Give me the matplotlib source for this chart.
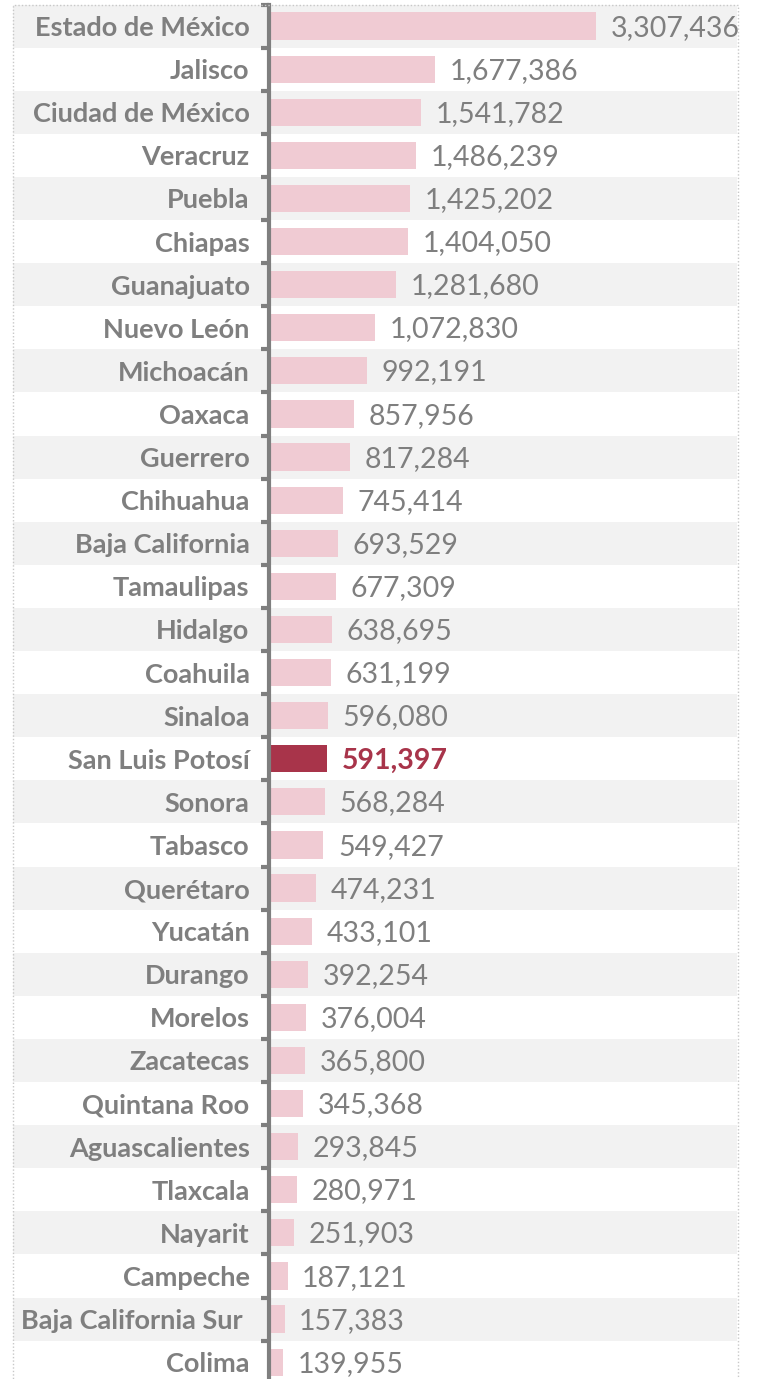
import matplotlib
matplotlib.use("Agg")
import matplotlib.pyplot as plt
from matplotlib.patches import Rectangle

states = ["Estado de México", "Jalisco", "Ciudad de México", "Veracruz", "Puebla",
          "Chiapas", "Guanajuato", "Nuevo León", "Michoacán", "Oaxaca", "Guerrero",
          "Chihuahua", "Baja California", "Tamaulipas", "Hidalgo", "Coahuila",
          "Sinaloa", "San Luis Potosí", "Sonora", "Tabasco", "Querétaro", "Yucatán",
          "Durango", "Morelos", "Zacatecas", "Quintana Roo", "Aguascalientes",
          "Tlaxcala", "Nayarit", "Campeche", "Baja California Sur ", "Colima"]
values = [3307436, 1677386, 1541782, 1486239, 1425202, 1404050, 1281680, 1072830,
          992191, 857956, 817284, 745414, 693529, 677309, 638695, 631199, 596080,
          591397, 568284, 549427, 474231, 433101, 392254, 376004, 365800, 345368,
          293845, 280971, 251903, 187121, 157383, 139955]
highlight = "San Luis Potosí"

W, H = 757, 1379
fig = plt.figure(figsize=(W / 100, H / 100), dpi=100)

row_h = 43.1
top_px = 4.5
n = len(states)
left_px, right_px = 13, 737
bottom_px = top_px + row_h * n
ax = fig.add_axes([left_px / W, (H - bottom_px) / H, (right_px - left_px) / W, (bottom_px - top_px) / H])

zero_px = 269
scale = 98.87e-6  # px per unit
ax.set_xlim(-(zero_px - left_px) / scale, (right_px - zero_px) / scale)
ax.set_ylim(n - 0.5, -0.5)

grey = "#7f7f7f"
pink = "#f0cbd3"
dark = "#a8344a"

for i in range(n):
    if i % 2 == 0:
        ax.axhspan(i - 0.5, i + 0.5, color="#f2f2f2", lw=0, zorder=0)

colors = [dark if s == highlight else pink for s in states]
ypos = list(range(n))
ax.barh(ypos, values, height=0.63, color=colors, zorder=2)

fam = ["Lato", "DejaVu Sans"]
for y, v, s in zip(ypos, values, states):
    hl = s == highlight
    ax.annotate(f"{v:,}", xy=(v, y), xytext=(10.5, -1.2), textcoords="offset points",
                ha="left", va="center", fontsize=20.5, family=fam,
                color=dark if hl else grey, fontweight="bold" if hl else "normal",
                zorder=3, annotation_clip=False)

for side in ["top", "right", "bottom"]:
    ax.spines[side].set_visible(False)
ax.spines["left"].set_position(("data", 0))
ax.spines["left"].set_color(grey)
ax.spines["left"].set_linewidth(3)
ax.spines["left"].set_zorder(4)

ax.set_xticks([])
ax.set_yticks(ypos)
ax.set_yticklabels(states, family=fam, fontweight="bold", fontsize=19.5)
for lbl in ax.get_yticklabels():
    lbl.set_color(grey)
ax.tick_params(axis="y", which="major", length=0, pad=14)
ax.set_yticks([i - 0.5 for i in range(n + 1)], minor=True)
ax.tick_params(axis="y", which="minor", length=6, width=3, color=grey, direction="out")

ax.patch.set_alpha(0)
fig.patches.append(Rectangle((12.5 / W, -0.01), (737.5 - 12.5) / W, (H - 5) / H + 0.01,
                             transform=fig.transFigure, fill=False, edgecolor="#c8c8c8",
                             lw=1, ls=(0, (1, 1.5)), zorder=0))

fig.savefig("out.png", dpi=100)
